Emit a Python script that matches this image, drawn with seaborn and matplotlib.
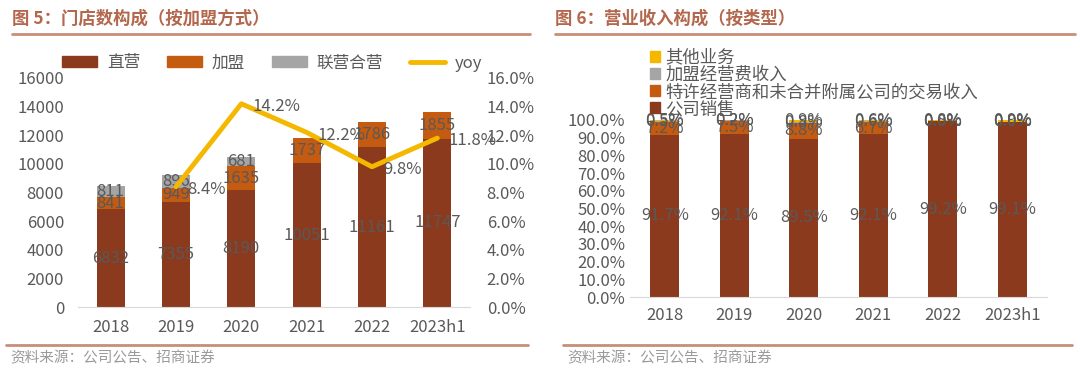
import numpy as np
import matplotlib
matplotlib.use("Agg")
import matplotlib.pyplot as plt
import matplotlib.ticker as mtick
from matplotlib.patches import Patch
from matplotlib.lines import Line2D
import seaborn as sns
import pandas as pd

sns.set_style("white")
plt.rcParams['font.family'] = ['Noto Sans CJK SC', 'DejaVu Sans']

# data
years = ["2018", "2019", "2020", "2021", "2022", "2023h1"]
direct = [6832, 7355, 8190, 10051, 11161, 11747]
franchise = [841, 949, 1635, 1737, 1786, 1855]
joint = [811, 896, 681, 0, 0, 0]
yoy_years = [1, 2, 3, 4, 5]
yoy = [0.084, 0.142, 0.122, 0.098, 0.118]

sales = [91.7, 92.1, 89.5, 92.1, 99.2, 99.1]
licensee = [7.2, 7.5, 8.8, 6.7, 0.0, 0.0]
fee = [0.5, 0.2, 0.8, 0.6, 0.0, 0.0]
other = [0.5, 0.2, 0.9, 0.6, 0.8, 0.9]

c_dark = "#8b3a1e"
c_orange = "#c55a11"
c_gray = "#a5a5a5"
c_yellow = "#f5b800"
c_text = "#595959"
c_title = "#b3674d"
c_rule = "#c98e7a"

W, H = 1080, 386
fig = plt.figure(figsize=(W / 100, H / 100), dpi=100)


def box(x0, y0, x1, y1):
    return [x0 / W, 1 - y1 / H, (x1 - x0) / W, (y1 - y0) / H]


def style_cat_axis(ax, n):
    sns.despine(ax=ax, left=True, right=True, top=True)
    ax.spines["bottom"].set_color("#d9d9d9")
    ax.set_xlim(-0.5, n - 0.5)
    ax.set_xticks(range(n))
    ax.set_xticklabels(years)
    ax.set_xticks(np.arange(-0.5, n, 1.0), minor=True)
    ax.tick_params(axis="x", which="major", length=0, pad=9, labelsize=12, labelcolor=c_text)
    ax.tick_params(axis="x", which="minor", length=5, color="#d9d9d9")
    ax.tick_params(axis="y", length=0, labelsize=12, labelcolor=c_text)
    ax.set_xlabel("")
    ax.set_ylabel("")


def stacked(ax, layers, colors, width):
    cum = np.zeros(len(years))
    tops = []
    for vals in layers:
        cum = cum + np.array(vals, dtype=float)
        tops.append(cum.copy())
    for top, col in reversed(list(zip(tops, colors))):
        df = pd.DataFrame({"year": years, "v": top})
        sns.barplot(data=df, x="year", y="v", color=col, width=width,
                    saturation=1, ax=ax, linewidth=0)
    return tops


# ---- headers / footers
for x0, x1, title in [(12, 530, "图 5：门店数构成（按加盟方式）"),
                      (555, 1075, "图 6：营业收入构成（按类型）")]:
    fig.text(x0 / W, 1 - 19 / H, title, fontsize=12.5, fontweight="bold",
             color=c_title, va="center", ha="left")
    fig.add_artist(Line2D([x0 / W, x1 / W], [1 - 34 / H] * 2, color=c_rule, lw=2))
for x0, x1 in [(6, 528), (563, 1072)]:
    fig.add_artist(Line2D([x0 / W, x1 / W], [1 - 345 / H] * 2, color=c_rule, lw=2))
    fig.text((x0 + 4) / W, 1 - 358 / H, "资料来源：公司公告、招商证券", fontsize=10.5,
             color="#9a9a9a", va="center", ha="left")

# ---- left chart
ax1 = fig.add_axes(box(78, 78, 470, 307))
tops = stacked(ax1, [direct, franchise, joint], [c_dark, c_orange, c_gray], 0.43)
ax1.set_ylim(0, 16000)
ax1.set_yticks(range(0, 16001, 2000))
style_cat_axis(ax1, len(years))
ax1.tick_params(axis="y", pad=10)
bottoms = [np.zeros(len(years))] + tops[:-1]
for vals, bot in zip([direct, franchise, joint], bottoms):
    for i, v in enumerate(vals):
        if v > 0:
            ax1.text(i, bot[i] + v / 2, f"{v}", ha="center", va="center",
                     fontsize=12, color=c_text)

ax1b = ax1.twinx()
sns.lineplot(x=yoy_years, y=yoy, color=c_yellow, lw=3.5, ax=ax1b)
ax1b.set_ylim(0, 0.16)
ax1b.set_yticks(np.arange(0, 0.161, 0.02))
ax1b.yaxis.set_major_formatter(mtick.PercentFormatter(1.0, decimals=1))
ax1b.tick_params(axis="y", length=0, labelsize=12, labelcolor=c_text, pad=12)
for s in ax1b.spines.values():
    s.set_visible(False)
ax1b.set_ylabel("")
for xi, v in zip(yoy_years, yoy):
    ax1b.text(xi + 0.17, v - 0.002, f"{v * 100:.1f}%", ha="left", va="center",
              fontsize=12, color=c_text)

h1 = [Patch(color=c_dark), Patch(color=c_orange), Patch(color=c_gray),
      Line2D([], [], color=c_yellow, lw=3.5)]
fig.legend(h1, ["直营", "加盟", "联营合营", "yoy"], loc="center",
           bbox_to_anchor=(272 / W, 1 - 63 / H), ncol=4, frameon=False,
           fontsize=12, handlelength=2.1, handleheight=0.6, columnspacing=1.6,
           handletextpad=0.6, labelcolor=c_text)

# ---- right chart
ax2 = fig.add_axes(box(630, 120, 1047, 297))
layers2 = [sales, licensee, fee, other]
cols2 = [c_dark, c_orange, c_gray, c_yellow]
tops2 = stacked(ax2, layers2, cols2, 0.42)
ax2.set_ylim(0, 100)
ax2.set_yticks(range(0, 101, 10))
ax2.yaxis.set_major_formatter(mtick.PercentFormatter(100, decimals=1))
style_cat_axis(ax2, len(years))
ax2.tick_params(axis="x", which="major", pad=7)
bottoms2 = [np.zeros(len(years))] + tops2[:-1]
for vals, bot in zip(layers2, bottoms2):
    for i, v in enumerate(vals):
        ax2.text(i, bot[i] + v / 2, f"{v:.1f}%", ha="center", va="center",
                 fontsize=12, color=c_text)

names2 = ["公司销售", "特许经营商和未合并附属公司的交易收入", "加盟经营费收入", "其他业务"]
h2 = [Patch(color=c) for c in cols2]
fig.legend(h2[::-1], names2[::-1], loc="upper left",
           bbox_to_anchor=(641 / W, 1 - 40 / H), frameon=False, fontsize=12.5,
           handlelength=0.6, handleheight=0.6, handletextpad=0.3,
           labelspacing=-0.05, borderpad=0, labelcolor=c_text)

fig.savefig("out.png", dpi=100, facecolor="white")
